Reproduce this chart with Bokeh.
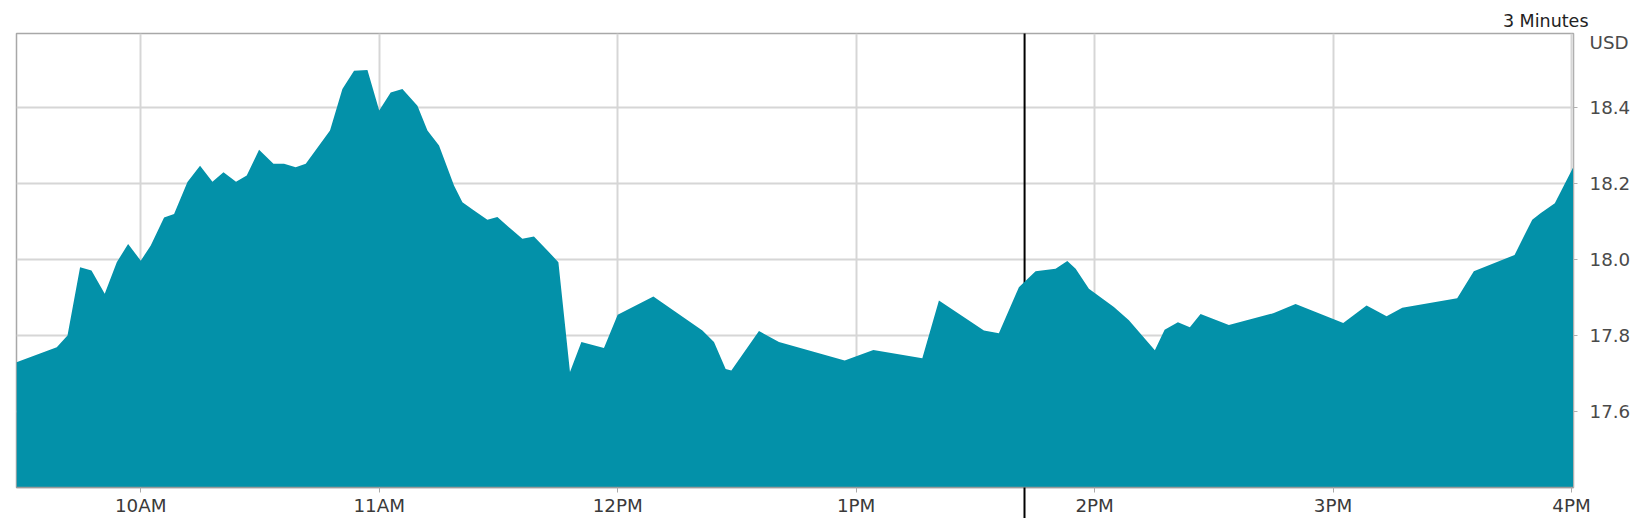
from bokeh.plotting import figure
from bokeh.models import Range1d, FixedTicker
from bokeh.embed import file_html
from bokeh.resources import INLINE

# ---- data ----
times = [
    "9:28:44", "9:38:52", "9:41:34", "9:44:44", "9:47:36", "9:50:56", "9:53:58", "9:56:49",
    "10:00:00", "10:02:31", "10:05:52", "10:08:23", "10:11:45", "10:14:55", "10:18:02", "10:20:49",
    "10:23:58", "10:26:40", "10:29:46", "10:33:23", "10:36:03", "10:38:59", "10:41:31", "10:47:37",
    "10:50:44", "10:53:40", "10:57:02", "11:00:00", "11:02:53", "11:05:50", "11:09:37", "11:12:08",
    "11:15:03", "11:18:49", "11:20:56", "11:23:51", "11:27:13", "11:29:44", "11:33:05", "11:36:01",
    "11:38:56", "11:42:19", "11:45:05", "11:48:00", "11:50:52", "11:56:33", "12:00:00", "12:08:59",
    "12:21:19", "12:24:14", "12:27:10", "12:28:36", "12:35:33", "12:40:35", "12:57:07", "13:04:20",
    "13:16:39", "13:20:50", "13:32:09", "13:35:55", "13:40:57", "13:45:09", "13:50:11", "13:53:08",
    "13:55:14", "13:58:34", "14:04:51", "14:08:38", "14:11:34", "14:15:10", "14:17:37", "14:20:58",
    "14:23:58", "14:26:40", "14:33:47", "14:45:07", "14:50:34", "15:02:34", "15:08:26", "15:13:28",
    "15:17:25", "15:31:14", "15:35:25", "15:45:40", "15:50:07", "15:52:12", "15:55:48", "16:00:26",
]
prices = [
    17.729, 17.768, 17.799, 17.979, 17.970, 17.909, 17.992, 18.040,
    17.996, 18.036, 18.110, 18.119, 18.203, 18.246, 18.204, 18.229,
    18.204, 18.220, 18.288, 18.251, 18.251, 18.242, 18.251, 18.339,
    18.448, 18.496, 18.498, 18.391, 18.439, 18.448, 18.404, 18.339,
    18.299, 18.194, 18.150, 18.128, 18.104, 18.111, 18.080, 18.054,
    18.060, 18.023, 17.992, 17.703, 17.782, 17.766, 17.854, 17.902,
    17.812, 17.782, 17.711, 17.707, 17.811, 17.782, 17.733, 17.761,
    17.739, 17.891, 17.812, 17.805, 17.926, 17.968, 17.975, 17.995,
    17.975, 17.922, 17.874, 17.839, 17.804, 17.760, 17.814, 17.834,
    17.821, 17.856, 17.827, 17.858, 17.882, 17.832, 17.878, 17.850,
    17.872, 17.897, 17.968, 18.011, 18.104, 18.121, 18.147, 18.242,
]
tick_hours = [10, 11, 12, 13, 14, 15, 16]
tick_labels = ["10AM", "11AM", "12PM", "1PM", "2PM", "3PM", "4PM"]
price_ticks = [17.6, 17.8, 18.0, 18.2, 18.4]
price_tick_labels = ["17.6", "17.8", "18.0", "18.2", "18.4"]
interval_label = "3 Minutes"
currency_label = "USD"
currency_label_pos = 18.571
marker_time = "13:42:23"
x_start, x_end = "9:28:44", "16:00:30"
y_start, y_end = 17.399, 18.594


def to_hours(s):
    parts = [int(v) for v in s.split(":")]
    while len(parts) < 3:
        parts.append(0)
    return parts[0] + parts[1] / 60.0 + parts[2] / 3600.0


xs = [to_hours(t) for t in times]
mx = to_hours(marker_time)

FONT = "DejaVu Sans"
FILL = "#0391a9"

p = figure(
    width=1650, height=518,
    x_range=Range1d(to_hours(x_start), to_hours(x_end)),
    y_range=Range1d(y_start, y_end),
    y_axis_location="right",
    output_backend="svg", toolbar_location=None,
    min_border_left=16, min_border_right=77, min_border_top=33, min_border_bottom=31,
)
p.background_fill_color = "white"
p.border_fill_color = "white"
p.outline_line_color = "#a8a8a8"
p.outline_line_width = 1.5

# title "3 Minutes" at the top right
p.title.text = interval_label
p.title.align = "right"
p.title.offset = -15
p.title.standoff = 5
p.title.text_font = FONT
p.title.text_font_size = "17.5px"
p.title.text_font_style = "normal"
p.title.text_color = "#222222"

# grid
p.xgrid.ticker = FixedTicker(ticks=tick_hours)
p.ygrid.ticker = FixedTicker(ticks=price_ticks)
for g in (p.xgrid, p.ygrid):
    g.grid_line_color = "#d6d6d6"
    g.grid_line_width = 2

# marker line (behind the area)
p.segment(x0=[mx], y0=[y_start - 1], x1=[mx], y1=[y_end + 1], line_color="black", line_width=2)

# price area
p.varea(x=xs, y1=y_start - 1, y2=prices, fill_color=FILL, fill_alpha=1.0)

# x axis; the marker continues below the frame as a long minor tick,
# the negative standoff keeps the labels where the short ticks would put them
MARKER_TICK = 31
xa = p.xaxis[0]
xa.ticker = FixedTicker(ticks=tick_hours, minor_ticks=[mx])
xa.major_label_overrides = {h: l for h, l in zip(tick_hours, tick_labels)}
xa.axis_line_color = "#9a9a9a"
xa.axis_line_width = 1.5
xa.major_tick_line_color = "#aaaaaa"
xa.major_tick_out = 5
xa.major_tick_in = 0
xa.minor_tick_line_color = "black"
xa.minor_tick_line_width = 2
xa.minor_tick_out = MARKER_TICK
xa.minor_tick_in = 0
xa.major_label_text_font = FONT
xa.major_label_text_font_size = "18.3px"
xa.major_label_text_color = "#3a3a3a"
xa.major_label_standoff = -24

# y axis (right); "USD" sits as an extra label above the price labels
ya = p.yaxis[0]
ya.ticker = FixedTicker(ticks=price_ticks + [currency_label_pos], minor_ticks=price_ticks)
overrides = {v: l for v, l in zip(price_ticks, price_tick_labels)}
overrides[currency_label_pos] = currency_label
ya.major_label_overrides = overrides
ya.axis_line_color = "#b0b0b0"
ya.major_tick_line_color = None
ya.major_tick_out = 4
ya.major_tick_in = 0
ya.minor_tick_line_color = "#b0b0b0"
ya.minor_tick_out = 4
ya.minor_tick_in = 0
ya.major_label_text_font = FONT
ya.major_label_text_font_size = "18.3px"
ya.major_label_text_color = "#4a4a4a"
ya.major_label_standoff = 12

open("out.html", "w").write(file_html(p, INLINE))
